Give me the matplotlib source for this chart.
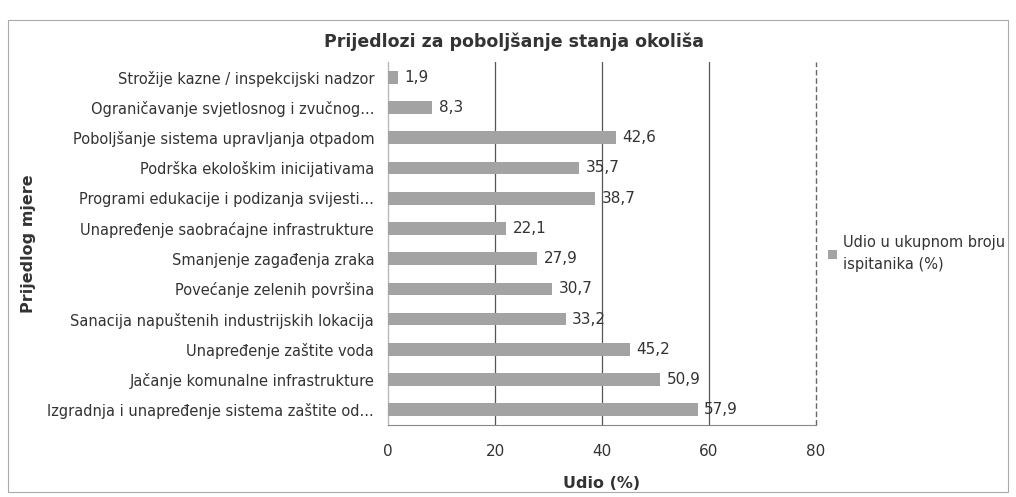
import matplotlib.pyplot as plt
from matplotlib.patches import Patch

categories = [
    "Strožije kazne / inspekcijski nadzor",
    "Ograničavanje svjetlosnog i zvučnog...",
    "Poboljšanje sistema upravljanja otpadom",
    "Podrška ekološkim inicijativama",
    "Programi edukacije i podizanja svijesti...",
    "Unapređenje saobraćajne infrastrukture",
    "Smanjenje zagađenja zraka",
    "Povećanje zelenih površina",
    "Sanacija napuštenih industrijskih lokacija",
    "Unapređenje zaštite voda",
    "Jačanje komunalne infrastrukture",
    "Izgradnja i unapređenje sistema zaštite od...",
]
values = [1.9, 8.3, 42.6, 35.7, 38.7, 22.1, 27.9, 30.7, 33.2, 45.2, 50.9, 57.9]
value_labels = ["1,9", "8,3", "42,6", "35,7", "38,7", "22,1", "27,9", "30,7", "33,2", "45,2", "50,9", "57,9"]
xticks = [0, 20, 40, 60, 80]

bar_color = "#a3a3a3"
text_color = "#333333"

fig = plt.figure(figsize=(10.16, 4.97), dpi=100)
ax = fig.add_axes([0.382, 0.145, 0.421, 0.73])

pos = list(range(len(categories)))
ax.barh(pos, values, height=0.42, color=bar_color, zorder=3)
for p, v, lab in zip(pos, values, value_labels):
    ax.text(v + 1.2, p, lab, va="center", ha="left", fontsize=11, color=text_color, zorder=4)

ax.set_ylim(len(categories) - 0.5, -0.5)
ax.set_xlim(0, 80)
ax.set_yticks(pos)
ax.set_yticklabels(categories, fontsize=10.5, color=text_color)
ax.set_xticks(xticks)
ax.set_xticklabels([str(t) for t in xticks], fontsize=11, color=text_color)
ax.tick_params(axis="y", length=0, pad=10)
ax.tick_params(axis="x", length=0, pad=14)
for t in xticks[1:-1]:
    ax.axvline(t, color="#555555", linewidth=0.9, zorder=0)
ax.axvline(80, color="#666666", linewidth=1.0, linestyle=(0, (4, 2)), zorder=0, clip_on=False)
ax.axvline(0, color="#bbbbbb", linewidth=1.0, zorder=0, clip_on=False)
for s in ["top", "right", "left"]:
    ax.spines[s].set_visible(False)
ax.spines["bottom"].set_color("#888888")

ax.set_xlabel("Udio (%)", fontsize=11.5, fontweight="bold", color=text_color, labelpad=12)
ax.set_ylabel("Prijedlog mjere", fontsize=11.5, fontweight="bold", color=text_color, labelpad=8)
fig.text(0.506, 0.915, "Prijedlozi za poboljšanje stanja okoliša", ha="center", va="center",
         fontsize=12.5, fontweight="bold", color=text_color)

handle = [Patch(facecolor=bar_color, edgecolor="none")]
leg = fig.legend(handle, ["Udio u ukupnom broju\nispitanika (%)"], loc="center left",
                 bbox_to_anchor=(0.802, 0.49), frameon=False, fontsize=10.5,
                 handlelength=0.6, handleheight=0.6, handletextpad=0.4,
                 labelcolor=text_color)
for txt in leg.get_texts():
    txt.set_linespacing(1.6)

border = plt.Rectangle((0.008, 0.01), 0.984, 0.95, transform=fig.transFigure,
                       fill=False, edgecolor="#aaaaaa", linewidth=0.8)
fig.patches.append(border)

fig.savefig("out.png", dpi=100)
